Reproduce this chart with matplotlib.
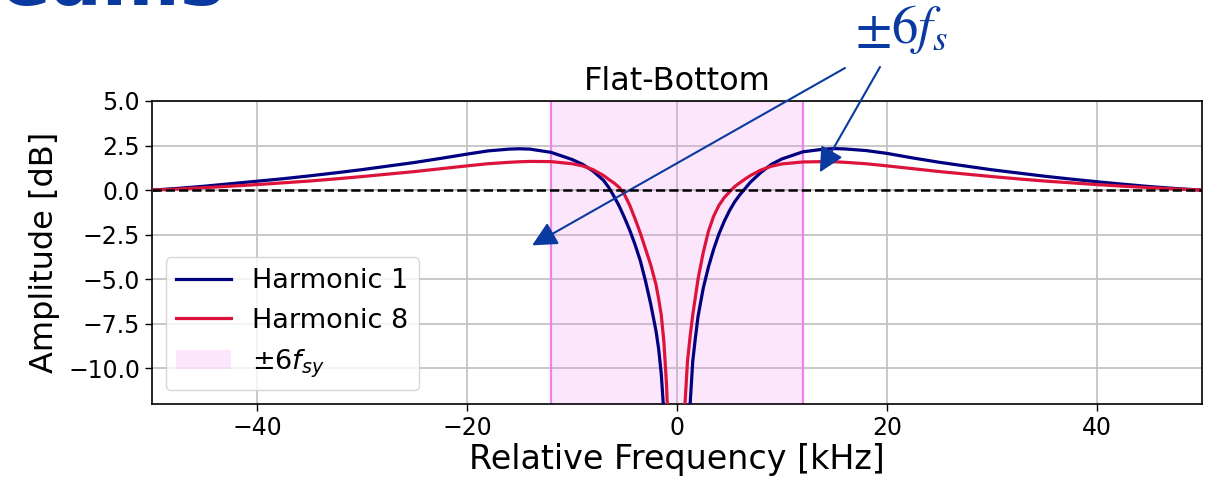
import matplotlib
matplotlib.use("Agg")
import matplotlib.pyplot as plt

# Relative frequency grid (kHz)
freq_khz = [-50, -47.5, -45, -42.5, -40, -37.5, -35, -32.5, -30, -27.5, -25, -22.5,
            -20, -18, -16, -15, -14, -12, -10, -9, -8, -7, -6.5, -6, -5.5, -5, -4.5,
            -4, -3.5, -3, -2.5, -2, -1.75, -1.5, -1.25, -1.0, -0.75, -0.5,
            0.5, 0.75, 1.0, 1.25, 1.5, 1.75, 2, 2.5, 3, 3.5, 4, 4.5, 5, 5.5, 6, 6.5,
            7, 8, 9, 10, 12, 14, 15, 16, 18, 20, 22.5, 25, 27.5, 30, 32.5, 35, 37.5,
            40, 42.5, 45, 47.5, 50]

# Amplitude response, harmonic 1 (dB)
harmonic_1_db = [0.0, 0.1, 0.22, 0.36, 0.5, 0.64, 0.8, 0.97, 1.15, 1.35, 1.55, 1.78,
                 2.02, 2.2, 2.3, 2.32, 2.3, 2.12, 1.72, 1.45, 1.07, 0.55, 0.15, -0.35,
                 -0.9, -1.55, -2.25, -3.05, -3.95, -5.1, -6.4, -7.9, -8.9, -10.3, -12.5,
                 -15.3, -18.5, -22.0,
                 -22.0, -18.5, -15.5, -12.0, -9.6, -8.3, -7.1, -5.5, -4.3, -3.3, -2.45,
                 -1.75, -1.15, -0.65, -0.25, 0.1, 0.45, 1.0, 1.45, 1.75, 2.15, 2.3, 2.33,
                 2.31, 2.22, 2.06, 1.8, 1.56, 1.35, 1.14, 0.96, 0.78, 0.62, 0.47, 0.33,
                 0.2, 0.09, 0.0]

# Amplitude response, harmonic 8 (dB)
harmonic_8_db = [0.0, 0.06, 0.14, 0.22, 0.31, 0.41, 0.51, 0.63, 0.76, 0.9, 1.04, 1.2,
                 1.36, 1.48, 1.56, 1.59, 1.61, 1.6, 1.48, 1.36, 1.15, 0.82, 0.6, 0.4,
                 0.15, -0.25, -0.85, -1.6, -2.4, -3.3, -4.2, -5.3, -6.1, -7.0, -8.5,
                 -10.9, -14.5, -19.0,
                 -19.0, -12.1, -9.6, -8.2, -7.0, -6.0, -5.0, -3.5, -2.3, -1.45, -0.85,
                 -0.42, -0.1, 0.2, 0.42, 0.63, 0.82, 1.13, 1.34, 1.47, 1.58, 1.6, 1.59,
                 1.56, 1.48, 1.36, 1.2, 1.04, 0.9, 0.76, 0.63, 0.51, 0.41, 0.31, 0.22,
                 0.14, 0.06, 0.0]

band_edge_khz = 12.0
x_ticks = [-40, -20, 0, 20, 40]
y_ticks = [-10.0, -7.5, -5.0, -2.5, 0.0, 2.5, 5.0]

blue = "#0a3aa0"

fig = plt.figure(figsize=(12.11, 4.83), dpi=100)
ax = fig.add_axes([152 / 1211, 1 - 404 / 483, 1050 / 1211, 303 / 483])

ax.axvspan(-band_edge_khz, band_edge_khz, facecolor="violet", alpha=0.2,
           edgecolor="none", label=r"$\pm6f_{sy}$", zorder=1)
for edge in (-band_edge_khz, band_edge_khz):
    ax.axvline(edge, color="violet", lw=1.6, zorder=1.5)

ax.plot(freq_khz, harmonic_1_db, color="navy", lw=2.3, label="Harmonic 1", zorder=3)
ax.plot(freq_khz, harmonic_8_db, color="crimson", lw=2.3, label="Harmonic 8", zorder=3)
ax.axhline(0, color="black", ls="--", lw=1.8, zorder=4)

ax.set_xlim(-50, 50)
ax.set_ylim(-12, 5)
ax.set_xticks(x_ticks)
ax.set_yticks(y_ticks)
ax.tick_params(labelsize=17, length=5, width=1)
ax.grid(True, color="#c4c4c4", lw=1.3, zorder=0)
ax.set_axisbelow(True)
for s in ax.spines.values():
    s.set_linewidth(1.2)

ax.set_xlabel("Relative Frequency [kHz]", fontsize=24, labelpad=2)
ax.set_ylabel("Amplitude [dB]", fontsize=23, labelpad=6)
ax.set_title("Flat-Bottom", fontsize=23, pad=8)

handles, labels = ax.get_legend_handles_labels()
order = [1, 2, 0]
ax.legend([handles[i] for i in order], [labels[i] for i in order],
          loc="lower left", fontsize=19.5, handlelength=2.0)

# Slide heading, mostly above the visible area
fig.text(225 / 1211, 1 - 5 / 483, "Beams", fontsize=54, fontweight="bold",
         color=blue, ha="right", va="baseline")

# Callout pointing at the band
fig.text(901 / 1211, 1 - 30 / 483, r"$\pm6f_s$", fontsize=38, color=blue,
         ha="center", va="center", math_fontfamily="stix")
arrow = dict(arrowstyle="-|>,head_length=0.6,head_width=0.3", color=blue,
             lw=1.5, mutation_scale=25, shrinkA=0, shrinkB=0)
ax.annotate("", xy=(-13.8, -3.1), xycoords="data",
            xytext=(845, 483 - 68), textcoords="figure pixels",
            arrowprops=arrow, annotation_clip=False)
ax.annotate("", xy=(13.6, 1.0), xycoords="data",
            xytext=(880, 483 - 67), textcoords="figure pixels",
            arrowprops=arrow, annotation_clip=False)

fig.savefig("out.png", dpi=100)
